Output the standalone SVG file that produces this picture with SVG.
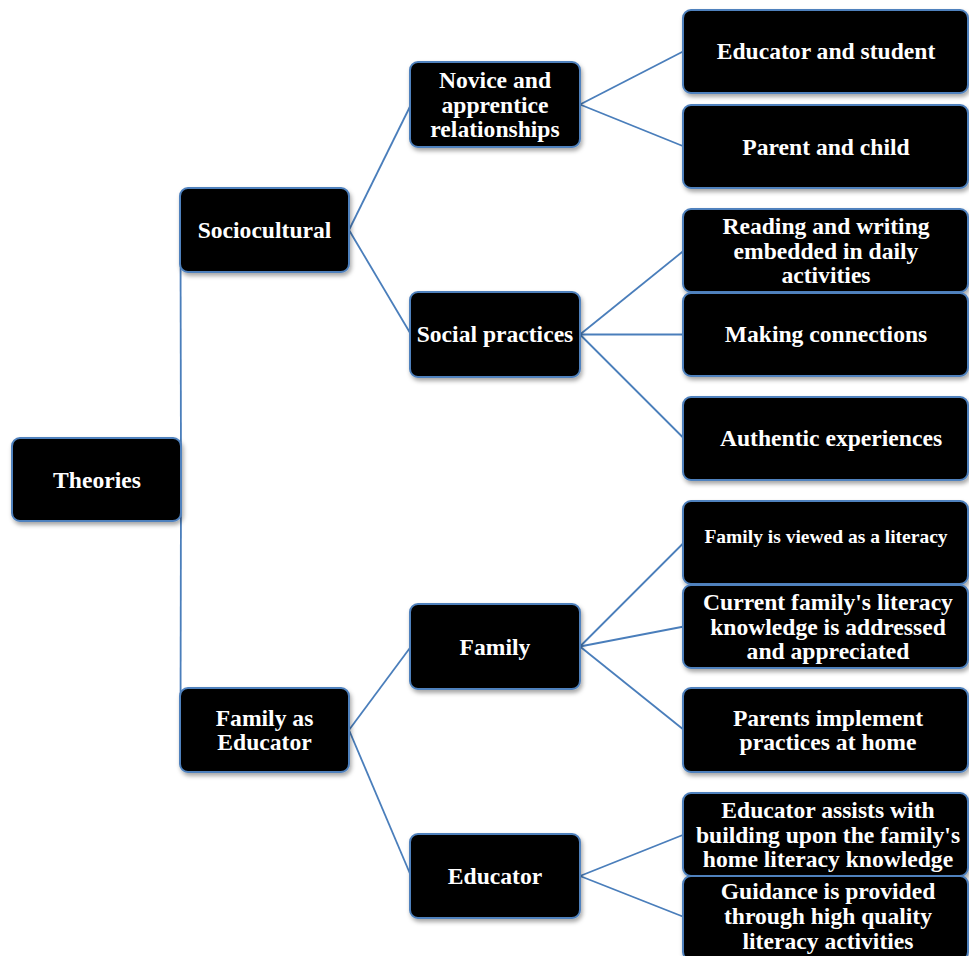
<svg xmlns="http://www.w3.org/2000/svg" width="969" height="956" viewBox="0 0 969 956">
<defs>
<filter id="sh" x="-10%" y="-10%" width="130%" height="140%">
<feDropShadow dx="1.5" dy="3" stdDeviation="2" flood-color="#000" flood-opacity="0.35"/>
</filter>
<style>
.box{fill:#000;stroke:#4f81bd;stroke-width:2;filter:url(#sh)}
.t{font-family:"Liberation Serif","Times New Roman",serif;font-weight:bold;font-size:23.6px;fill:#fff;text-anchor:middle}
.s{font-size:19.5px}
.c{stroke:#4a7ebb;stroke-width:1.8;fill:none}
</style>
</defs>
<rect width="969" height="956" fill="#fff"/>
<g id="connectors">
<line class="c" x1="181" y1="480" x2="180.5" y2="230"/>
<line class="c" x1="181" y1="480" x2="180.5" y2="730"/>
<line class="c" x1="349" y1="230" x2="411" y2="104.5"/>
<line class="c" x1="349" y1="230" x2="411" y2="334.5"/>
<line class="c" x1="349" y1="730" x2="411" y2="646.5"/>
<line class="c" x1="349" y1="730" x2="411" y2="876"/>
<line class="c" x1="580" y1="104.5" x2="684" y2="51"/>
<line class="c" x1="580" y1="104.5" x2="684" y2="146.5"/>
<line class="c" x1="580" y1="334.5" x2="684" y2="250.5"/>
<line class="c" x1="580" y1="334.5" x2="684" y2="334.5"/>
<line class="c" x1="580" y1="334.5" x2="684" y2="438.5"/>
<line class="c" x1="580" y1="646.5" x2="684" y2="542.5"/>
<line class="c" x1="580" y1="646.5" x2="684" y2="626.5"/>
<line class="c" x1="580" y1="646.5" x2="684" y2="730"/>
<line class="c" x1="580" y1="876" x2="684" y2="834.5"/>
<line class="c" x1="580" y1="876" x2="684" y2="917"/>
</g>
<g id="theories"><rect class="box" x="12" y="438" width="169" height="83" rx="8"/><text class="t" x="97" y="488">Theories</text></g>
<g id="sociocultural"><rect class="box" x="180" y="188" width="169" height="84" rx="8"/><text class="t" x="264.5" y="238">Sociocultural</text></g>
<g id="family-as-educator"><rect class="box" x="180" y="688" width="169" height="84" rx="8"/><text class="t" x="264.5" y="725.6">Family as</text><text class="t" x="264.5" y="750.4">Educator</text></g>
<g id="novice"><rect class="box" x="410" y="62" width="170" height="85" rx="8"/><text class="t" x="495" y="87.7">Novice and</text><text class="t" x="495" y="112.5">apprentice</text><text class="t" x="495" y="137.3">relationships</text></g>
<g id="social-practices"><rect class="box" x="410" y="292" width="170" height="85" rx="8"/><text class="t" x="495" y="342">Social practices</text></g>
<g id="family"><rect class="box" x="410" y="604" width="170" height="85" rx="8"/><text class="t" x="495" y="654.5">Family</text></g>
<g id="educator"><rect class="box" x="410" y="834" width="170" height="84" rx="8"/><text class="t" x="495" y="884">Educator</text></g>
<g id="educator-student"><rect class="box" x="683" y="10" width="285" height="83" rx="8"/><text class="t" x="826" y="59">Educator and student</text></g>
<g id="parent-child"><rect class="box" x="683" y="105" width="285" height="83" rx="8"/><text class="t" x="826" y="154.5">Parent and child</text></g>
<g id="reading-writing"><rect class="box" x="683" y="209" width="285" height="83" rx="8"/><text class="t" x="826" y="233.7">Reading and writing</text><text class="t" x="826" y="258.5">embedded in daily</text><text class="t" x="826" y="283.3">activities</text></g>
<g id="making-connections"><rect class="box" x="683" y="293" width="285" height="83" rx="8"/><text class="t" x="826" y="342">Making connections</text></g>
<g id="authentic"><rect class="box" x="683" y="397" width="285" height="83" rx="8"/><text class="t" x="831" y="446">Authentic experiences</text></g>
<g id="family-viewed"><rect class="box" x="683" y="501" width="285" height="83" rx="8"/><text class="t s" x="826" y="543">Family is viewed as a literacy</text></g>
<g id="current-family"><rect class="box" x="683" y="585" width="285" height="83" rx="8"/><text class="t" x="828" y="609.7">Current family's literacy</text><text class="t" x="828" y="634.5">knowledge is addressed</text><text class="t" x="828" y="659.3">and appreciated</text></g>
<g id="parents-implement"><rect class="box" x="683" y="688" width="285" height="84" rx="8"/><text class="t" x="828" y="725.6">Parents implement</text><text class="t" x="828" y="750.4">practices at home</text></g>
<g id="educator-assists"><rect class="box" x="683" y="793" width="285" height="83" rx="8"/><text class="t" x="828" y="817.7">Educator assists with</text><text class="t" x="828" y="842.5">building upon the family's</text><text class="t" x="828" y="867.3">home literacy knowledge</text></g>
<g id="guidance"><rect class="box" x="683" y="876" width="285" height="84" rx="8"/><text class="t" x="828" y="899">Guidance is provided</text><text class="t" x="828" y="923.8">through high quality</text><text class="t" x="828" y="948.6">literacy activities</text></g>
</svg>
